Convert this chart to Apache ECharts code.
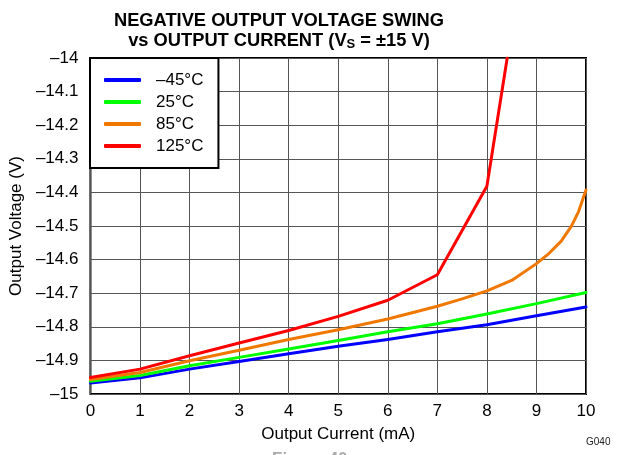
<!DOCTYPE html>
<html>
<head>
<meta charset="utf-8">
<script src="https://cdn.jsdelivr.net/npm/echarts@6/dist/echarts.min.js"></script>
<style>
html,body{margin:0;padding:0;background:#fff;}
#chart{width:618px;height:455px;}
</style>
</head>
<body>
<div id="chart"></div>
<script>
var seriesNames = ['–45°C', '25°C', '85°C', '125°C'];
var seriesColors = ['#0000ff', '#00ff00', '#f07800', '#ff0000'];

var xNeg45 = [0, 1, 2, 3, 4, 5, 6, 7, 8, 9, 10];
var yNeg45 = [-14.967, -14.952, -14.926, -14.903, -14.880, -14.858, -14.838, -14.815, -14.794, -14.767, -14.741];

var x25 = [0, 1, 2, 3, 4, 5, 6, 7, 8, 9, 10];
var y25 = [-14.962, -14.945, -14.916, -14.891, -14.866, -14.841, -14.815, -14.791, -14.762, -14.731, -14.698];

var x85 = [0, 1, 2, 3, 4, 5, 6, 7, 7.5, 8, 8.5, 9, 9.25, 9.5, 9.7, 9.85, 10];
var y85 = [-14.957, -14.936, -14.901, -14.870, -14.838, -14.809, -14.777, -14.739, -14.717, -14.693, -14.662, -14.612, -14.582, -14.545, -14.502, -14.457, -14.393];

var x125 = [0, 1, 2, 3, 4, 5, 6, 7, 8, 8.41];
var y125 = [-14.951, -14.926, -14.886, -14.848, -14.811, -14.769, -14.721, -14.645, -14.382, -14.0];

var xTickLabels = ['0', '1', '2', '3', '4', '5', '6', '7', '8', '9', '10'];
var yTickLabels = ['–15', '–14.9', '–14.8', '–14.7', '–14.6', '–14.5', '–14.4', '–14.3', '–14.2', '–14.1', '–14'];

function pairs(xs, ys) { return xs.map(function (x, i) { return [x, ys[i]]; }); }
var allX = [xNeg45, x25, x85, x125];
var allY = [yNeg45, y25, y85, y125];

var FONT = 'Liberation Sans, Arial, sans-serif';
var chart = echarts.init(document.getElementById('chart'), null, {renderer: 'canvas'});

var series = seriesNames.map(function (name, i) {
  return {
    name: name,
    type: 'line',
    data: pairs(allX[i], allY[i]),
    showSymbol: false,
    symbol: 'none',
    smooth: false,
    clip: true,
    lineStyle: {color: seriesColors[i], width: 3, join: 'round', cap: 'round'},
    itemStyle: {color: seriesColors[i]},
    z: 3 + i
  };
});

chart.setOption({
  animation: false,
  backgroundColor: '#fff',
  textStyle: {fontFamily: FONT},
  title: {
    text: 'NEGATIVE OUTPUT VOLTAGE SWING\nvs OUTPUT CURRENT (V{sub|S} = ±15 V)',
    left: 274,
    top: 6,
    textAlign: 'center',
    textStyle: {
      fontFamily: FONT,
      fontSize: 18.3,
      fontWeight: 'bold',
      color: '#000',
      lineHeight: 20,
      rich: {
        sub: {fontFamily: FONT, fontSize: 13, fontWeight: 'bold', color: '#000', padding: [7, 0, 0, 0], lineHeight: 20}
      }
    }
  },
  legend: {
    orient: 'vertical',
    left: 90,
    top: 58,
    padding: [13, 15, 13, 14],
    itemWidth: 37,
    itemHeight: 4,
    itemGap: 4,
    icon: 'roundRect',
    backgroundColor: '#fff',
    borderColor: '#000',
    borderWidth: 2,
    borderRadius: 0,
    z: 10,
    data: seriesNames,
    textStyle: {fontFamily: FONT, fontSize: 17, color: '#000', lineHeight: 18, padding: [0, 0, 0, 10]}
  },
  grid: {
    left: 90, right: 32, top: 58, bottom: 61,
    show: true,
    borderColor: '#000',
    borderWidth: 2,
    backgroundColor: 'transparent'
  },
  xAxis: {
    type: 'value',
    min: 0, max: 10, interval: 1,
    name: 'Output Current (mA)',
    nameLocation: 'middle',
    nameGap: 32,
    nameTextStyle: {fontFamily: FONT, fontSize: 17, color: '#000'},
    axisLine: {show: false},
    axisTick: {show: false},
    axisLabel: {
      fontFamily: FONT, fontSize: 17, color: '#000', margin: 9,
      formatter: function (v) { return xTickLabels[Math.round(v)]; }
    },
    splitLine: {show: true, lineStyle: {color: '#555', width: 1}}
  },
  yAxis: {
    type: 'value',
    min: -15, max: -14, interval: 0.1,
    name: 'Output Voltage (V)',
    nameLocation: 'middle',
    nameGap: 63,
    nameTextStyle: {fontFamily: FONT, fontSize: 17, color: '#000'},
    axisLine: {show: false},
    axisTick: {show: false},
    axisLabel: {
      fontFamily: FONT, fontSize: 17, color: '#000', margin: 12,
      formatter: function (v) { return yTickLabels[Math.round((v + 15) * 10)]; }
    },
    splitLine: {show: true, lineStyle: {color: '#555', width: 1}}
  },
  graphic: [
    {type: 'text', left: 586, top: 437, z: 20, style: {text: 'G040', font: '10px ' + FONT, fill: '#222'}},
    {type: 'text', left: 272, top: 451, z: 20, style: {text: 'Figure 40.', font: 'bold 17px ' + FONT, fill: '#aaa'}}
  ],
  series: series
});
</script>
</body>
</html>
